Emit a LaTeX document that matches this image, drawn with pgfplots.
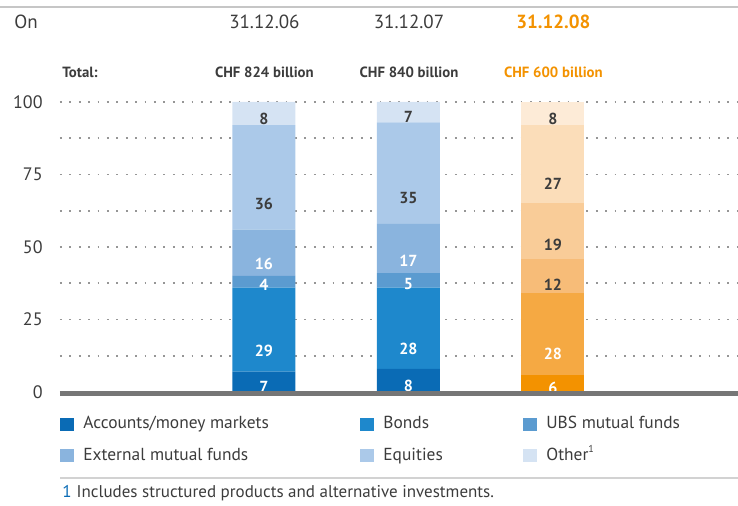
\documentclass[border=0pt]{standalone}
\usepackage{fontspec}
\setmainfont{PT Sans}
\usepackage{pgfplots}
\pgfplotsset{compat=1.18}

\definecolor{txt}{RGB}{60,60,60}
\definecolor{ubsOrange}{RGB}{243,146,0}
\definecolor{ubsBlue}{RGB}{10,107,181}
\definecolor{gridGray}{RGB}{150,150,150}
\definecolor{baseGray}{RGB}{118,118,118}
% blue shades, 2006/2007
\definecolor{bA}{RGB}{10,107,181}
\definecolor{bB}{RGB}{30,136,204}
\definecolor{bC}{RGB}{91,155,208}
\definecolor{bD}{RGB}{138,180,222}
\definecolor{bE}{RGB}{171,201,233}
\definecolor{bF}{RGB}{213,227,243}
% orange shades, 2008
\definecolor{oA}{RGB}{243,146,0}
\definecolor{oB}{RGB}{245,169,67}
\definecolor{oC}{RGB}{247,188,120}
\definecolor{oD}{RGB}{249,204,152}
\definecolor{oE}{RGB}{251,221,185}
\definecolor{oF}{RGB}{253,235,215}

\newcommand\fs[1]{\fontsize{#1}{#1}\selectfont}

\pgfplotsset{
  stackbase/.style={
    scale only axis, width=339pt, height=145pt,
    xmin=-1.41, xmax=3.28, ymin=0, ymax=100,
    ybar stacked, bar width=31.5pt,
    axis line style={draw=none}, tick style={draw=none},
    major tick length=0pt, minor tick length=0pt,
    xtick=\empty,
    /pgf/number format/assume math mode=true,
    point meta=explicit,
    nodes near coords,
    visualization depends on=rawy \as \rawy,
    every node near coord/.append style={
      font=\bfseries\fs{8}, text=txt, anchor=center,
      yshift=-0.3625*\rawy},
  },
  lbl white/.style={every node near coord/.append style={text=white}},
}

\begin{document}
\begin{tikzpicture}
\useasboundingbox (-30pt,-57pt) rectangle (339pt,196pt);

\begin{axis}[stackbase,
  ytick={0,25,50,75,100},
  minor ytick={12.5,37.5,62.5,87.5},
  ymajorgrids, yminorgrids,
  major grid style={gridGray, line width=0.9pt, dash pattern=on 0.9pt off 3.8pt},
  minor grid style={gridGray, line width=0.9pt, dash pattern=on 0.9pt off 3.8pt},
  yticklabel style={font=\fs{9}, text=txt, inner sep=0pt, xshift=-8.5pt},
  legend columns=3,
  legend cell align=left,
  legend image code/.code={\fill[#1] (0pt,-3.2pt) rectangle (7pt,3.2pt);},
  legend style={at={(0,0)}, anchor=north west, yshift=-11.8pt,
    draw=none, fill=none, inner sep=0pt, column sep=0pt, row sep=7.5pt,
    nodes={inner sep=0pt, font=\fs{8.7}, text=txt, text height=6.3pt, text depth=2pt},
    /tikz/every odd column/.append style={column sep=4.5pt}},
]
\addplot[fill=bA, draw=none, lbl white] coordinates {(0,7)[7] (1,8)[8]};
\addlegendentry{\makebox[138.5pt][l]{Accounts/money markets}}
\addplot[fill=bB, draw=none, lbl white] coordinates {(0,29)[29] (1,28)[28]};
\addlegendentry{\makebox[70pt][l]{Bonds}}
\addplot[fill=bC, draw=none, lbl white] coordinates {(0,4)[4] (1,5)[5]};
\addlegendentry{\makebox[80pt][l]{UBS mutual funds}}
\addplot[fill=bD, draw=none, lbl white] coordinates {(0,16)[16] (1,17)[17]};
\addlegendentry{\makebox[138.5pt][l]{External mutual funds}}
\addplot[fill=bE, draw=none] coordinates {(0,36)[36] (1,35)[35]};
\addlegendentry{\makebox[70pt][l]{Equities}}
\addplot[fill=bF, draw=none] coordinates {(0,8)[8] (1,7)[7]};
\addlegendentry{\makebox[80pt][l]{Other\textsuperscript{\fs{5}1}}}
\end{axis}

\begin{axis}[stackbase, hide axis]
\addplot[fill=oA, draw=none, lbl white] coordinates {(2,6)[6]};
\addplot[fill=oB, draw=none, lbl white] coordinates {(2,28)[28]};
\addplot[fill=oC, draw=none] coordinates {(2,12)[12]};
\addplot[fill=oD, draw=none] coordinates {(2,19)[19]};
\addplot[fill=oE, draw=none] coordinates {(2,27)[27]};
\addplot[fill=oF, draw=none] coordinates {(2,8)[8]};
\end{axis}

% baseline under the bars
\draw[baseGray, line width=2.2pt] (0pt,-0.8pt) -- (339pt,-0.8pt);

% header
\draw[gray!45, line width=1pt] (-30pt,192.5pt) -- (339pt,192.5pt);
\node[anchor=west, inner sep=0pt, font=\fs{9.5}, text=txt] at (-23pt,185pt) {On};
\node[inner sep=0pt, font=\fs{9.5}, text=txt] at (102.2pt,185pt) {31.12.06};
\node[inner sep=0pt, font=\fs{9.5}, text=txt] at (174.5pt,185pt) {31.12.07};
\node[inner sep=0pt, font=\bfseries\fs{9.5}, text=ubsOrange] at (246.7pt,185pt) {31.12.08};
\node[anchor=west, inner sep=0pt, font=\bfseries\fs{7.4}, text=txt] at (1pt,160pt) {Total:};
\node[inner sep=0pt, font=\bfseries\fs{7.4}, text=txt] at (102.2pt,160pt) {CHF 824 billion};
\node[inner sep=0pt, font=\bfseries\fs{7.4}, text=txt] at (174.5pt,160pt) {CHF 840 billion};
\node[inner sep=0pt, font=\bfseries\fs{7.4}, text=ubsOrange] at (246.7pt,160pt) {CHF 600 billion};

% footnote
\draw[gray!35, line width=0.8pt] (0pt,-43pt) -- (339pt,-43pt);
\node[anchor=west, inner sep=0pt, font=\fs{8.5}, text=txt] at (1pt,-50.5pt)
  {\textcolor{ubsBlue}{1}\hspace{2.5pt}Includes structured products and alternative investments.};
\end{tikzpicture}
\end{document}
